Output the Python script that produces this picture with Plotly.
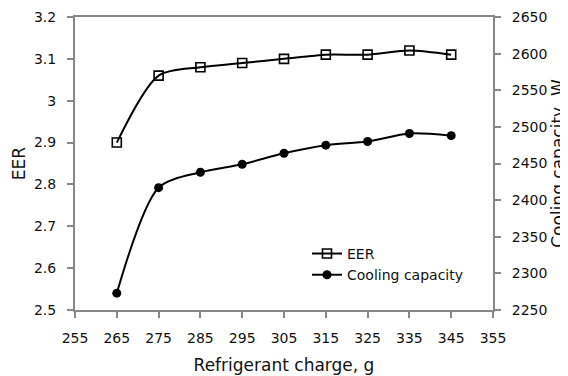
import plotly.graph_objects as go

charge = [265, 275, 285, 295, 305, 315, 325, 335, 345]
eer = [2.90, 3.06, 3.08, 3.09, 3.10, 3.11, 3.11, 3.12, 3.11]
cooling = [2273, 2417, 2438, 2449, 2464, 2475, 2480, 2491, 2488]

x_ticks = list(range(255, 356, 10))
eer_ticks = [2.5, 2.6, 2.7, 2.8, 2.9, 3.0, 3.1, 3.2]
eer_labels = ["2.5", "2.6", "2.7", "2.8", "2.9", "3", "3.1", "3.2"]
cap_ticks = list(range(2250, 2651, 50))

font = dict(family="DejaVu Sans, Liberation Sans, Arial, sans-serif", size=14, color="#111")
axis_col = "#878787"

fig = go.Figure()
fig.add_trace(go.Scatter(
    x=charge, y=eer, name="EER", mode="lines+markers",
    line=dict(color="black", width=2, shape="spline", smoothing=0.8),
    marker=dict(symbol="square-open", size=9, color="black", line=dict(width=1.6)),
))
fig.add_trace(go.Scatter(
    x=charge, y=cooling, name="Cooling capacity", mode="lines+markers", yaxis="y2",
    line=dict(color="black", width=2, shape="spline", smoothing=0.8),
    marker=dict(symbol="circle", size=9, color="black"),
))

# page body has an 8px margin: figure is placed at (8, 8)
fig.update_layout(
    width=560, height=368,
    margin=dict(l=67, r=75, t=9, b=66, autoexpand=False),
    paper_bgcolor="white", plot_bgcolor="white",
    font=font,
    showlegend=True,
    legend=dict(x=0.555, y=0.246, xanchor="left", yanchor="top",
                bgcolor="rgba(0,0,0,0)", font=dict(size=14),
                tracegroupgap=0, itemwidth=30),
    xaxis=dict(range=[255, 355], tickvals=x_ticks, ticks="outside", ticklen=6,
               tickcolor=axis_col, tickwidth=2, showline=True, linecolor=axis_col, linewidth=2,
               mirror=True, showgrid=False, zeroline=False, automargin=False,
               ticklabelstandoff=8,
               title=dict(text="Refrigerant charge, g", standoff=14)),
    yaxis=dict(range=[2.5, 3.2], tickvals=eer_ticks, ticktext=eer_labels,
               ticks="outside", ticklen=6, tickcolor=axis_col, tickwidth=2,
               showline=True, linecolor=axis_col, linewidth=2,
               showgrid=False, zeroline=False, automargin=False,
               ticklabelstandoff=8,
               title=dict(text="EER", standoff=4)),
    yaxis2=dict(range=[2250, 2650], tickvals=cap_ticks, overlaying="y", side="right",
                ticks="outside", ticklen=6, tickcolor=axis_col, tickwidth=2,
                showline=True, linecolor=axis_col, linewidth=2,
                showgrid=False, zeroline=False, automargin=False,
                ticklabelstandoff=8,
                title=dict(text="Cooling capacity, W", standoff=8)),
)

fig.write_html("out.html")
